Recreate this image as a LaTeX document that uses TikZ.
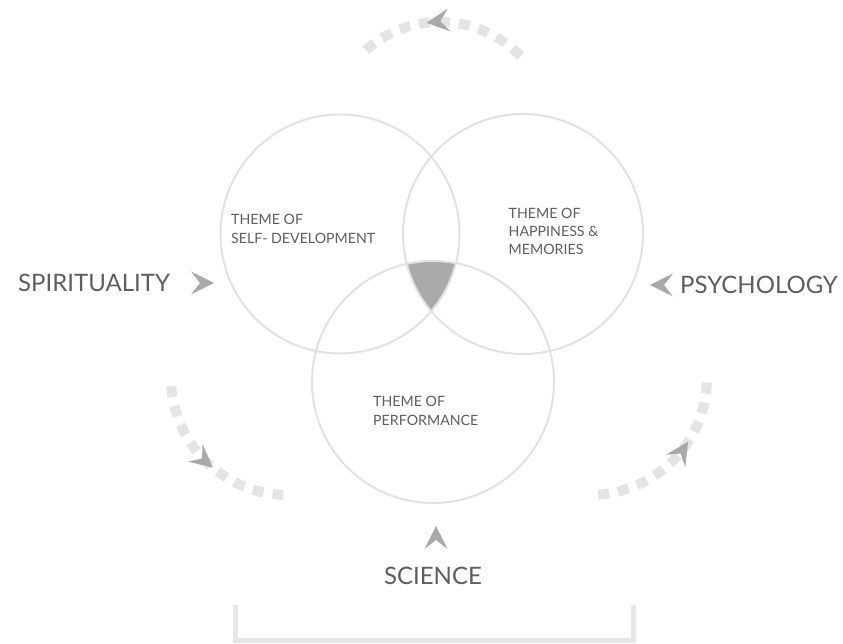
\documentclass[tikz,border=0pt]{standalone}
\usepackage{fontspec}
\setmainfont{Lato}
\definecolor{txt}{HTML}{5E5E5E}
\definecolor{ring}{HTML}{E2E2E2}
\definecolor{core}{HTML}{AAAAAA}
\definecolor{chevc}{HTML}{A9A9A9}
\definecolor{dashc}{HTML}{E4E4E4}
\definecolor{brk}{HTML}{E6E6E6}
\tikzset{
  x=1pt,y=1pt,
  ringline/.style={draw=ring,line width=2pt},
  cycarc/.style={draw=dashc,line width=10pt,dash pattern=on 11pt off 9pt},
  bigtext/.style={text=txt,font=\fontsize{24}{28}\selectfont,inner sep=0pt},
  theme/.style={text=txt,align=left,inner sep=0pt,anchor=base west},
  chev/.pic={\fill[chevc] (0,0) -- (-23,11.5) -- (-14,0) -- (-23,-11.5) -- cycle;}
}
\begin{document}
\begin{tikzpicture}
\useasboundingbox (0,0) rectangle (843,644);
% circle centres
\coordinate (cL) at (340,410);
\coordinate (cR) at (523,410);
\coordinate (cB) at (433,262);
% common core
\begin{scope}
  \clip (cL) circle (119.5);
  \clip (cR) circle (120);
  \fill[core] (cB) circle (121);
\end{scope}
\draw[ringline] (cL) circle (119.5);
\draw[ringline] (cR) circle (120);
\draw[ringline] (cB) circle (121);
% theme texts (anchor = baseline of last line)
\node[theme,font=\fontsize{14.2}{19}\selectfont] (tL) at (231,400) {THEME OF\\SELF- DEVELOPMENT};
\node[theme,font=\fontsize{14.2}{17.7}\selectfont] (tR) at (508.5,389.7) {THEME OF\\HAPPINESS \&\\MEMORIES};
\node[theme,font=\fontsize{14.2}{19}\selectfont] (tB) at (373,218.3) {THEME OF\\PERFORMANCE};
% big labels
\node[bigtext,anchor=base west] (spi) at (18,352) {SPIRITUALITY};
\node[bigtext,anchor=base east] (psy) at (838,350) {PSYCHOLOGY};
\node[bigtext,anchor=base] (sci) at (433,59) {SCIENCE};
\pic at (214,361) {chev};
\pic[rotate=180] at (650,359) {chev};
\pic[rotate=90] at (436,118) {chev};
% cycle arcs
\coordinate (oT) at (440,510);
\coordinate (oL) at (288,266);
\coordinate (oR) at (590,266);
\draw[cycarc] ([shift={(44:112)}]oT) arc[start angle=44,end angle=134,radius=112];
\pic[rotate=187] at ([shift={(97:112)}]oT) {chev};
\draw[cycarc] ([shift={(184:117)}]oL) arc[start angle=184,end angle=270,radius=117];
\pic[rotate=320] at ([shift={(230:117)}]oL) {chev};
\draw[cycarc] ([shift={(274:117)}]oR) arc[start angle=274,end angle=358,radius=117];
\pic[rotate=57] at ([shift={(327:117)}]oR) {chev};
% bracket
\coordinate (b1) at (235,39);
\coordinate (b2) at (633,39);
\draw[brk,line width=5pt] (b1) -- (b1|-0,3) -- (b2|-0,3) -- (b2);
\end{tikzpicture}
\end{document}
